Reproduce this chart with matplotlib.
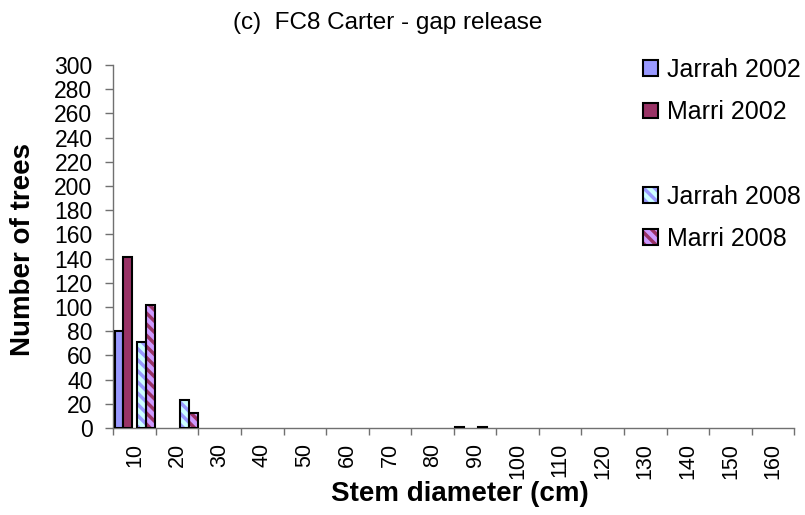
import numpy as np
import matplotlib
matplotlib.use("Agg")
import matplotlib.pyplot as plt
from matplotlib.patches import Patch
from matplotlib.legend_handler import HandlerTuple

plt.rcParams['font.family'] = ['Liberation Sans', 'DejaVu Sans']
plt.rcParams['hatch.linewidth'] = 2.5

categories = [10, 20, 30, 40, 50, 60, 70, 80, 90, 100, 110, 120, 130, 140, 150, 160]
jarrah_2002 = [80, 0, 0, 0, 0, 0, 0, 0, 1, 0, 0, 0, 0, 0, 0, 0]
marri_2002 = [141, 0, 0, 0, 0, 0, 0, 0, 0, 0, 0, 0, 0, 0, 0, 0]
jarrah_2008 = [71, 23, 0, 0, 0, 0, 0, 0, 1, 0, 0, 0, 0, 0, 0, 0]
marri_2008 = [102, 12, 0, 0, 0, 0, 0, 0, 0, 0, 0, 0, 0, 0, 0, 0]
y_ticks = list(range(0, 301, 20))

series = [
    ("Jarrah 2002", jarrah_2002, "#9999ff", None, 0.135),
    ("Marri 2002", marri_2002, "#993366", None, 0.345),
    ("Jarrah 2008", jarrah_2008, "#ccffff", "#9999ff", 0.665),
    ("Marri 2008", marri_2008, "#cc99ff", "#993366", 0.875),
]
w = 0.21

fig = plt.figure(figsize=(8.05, 5.15), dpi=100)
ax = fig.add_axes([0.1407, 0.169, 0.846, 0.705])

idx = np.arange(len(categories))
handles = []
for label, vals, fc, hc, off in series:
    vals = np.array(vals, dtype=float)
    m = vals > 0
    x = idx[m] + off
    if hc is None:
        ax.bar(x, vals[m], width=w, color=fc, edgecolor='black', linewidth=1.5, zorder=3)
        h = Patch(facecolor=fc, edgecolor='black', linewidth=1.5)
    else:
        ax.bar(x, vals[m], width=w, color=fc, edgecolor=hc, linewidth=0, hatch='\\\\\\', zorder=3)
        ax.bar(x, vals[m], width=w, fill=False, edgecolor='black', linewidth=1.5, zorder=4)
        h = (Patch(facecolor=fc, edgecolor=hc, linewidth=0, hatch='\\\\\\'),
             Patch(fill=False, edgecolor='black', linewidth=1.5))
    handles.append((h, label))

ax.set_xlim(0, len(categories))
ax.set_ylim(0, 300)
ax.set_yticks(y_ticks)
ax.set_yticklabels([str(v) for v in y_ticks], fontsize=16.5)
ax.set_xticks(idx + 0.5)
ax.set_xticklabels([str(c) for c in categories], rotation=90, fontsize=15.5)
ax.set_xticks(np.arange(len(categories) + 1), minor=True)
ax.tick_params(axis='x', which='major', length=0, pad=11)
ax.tick_params(axis='x', which='minor', length=5, width=1, color='#707070')
ax.tick_params(axis='y', length=6, width=1, color='#707070', pad=9)
for s in ['top', 'right']:
    ax.spines[s].set_visible(False)
for s in ['left', 'bottom']:
    ax.spines[s].set_color('#707070')
    ax.spines[s].set_linewidth(1)
ax.patch.set_alpha(0)

fig.text(30 / 805, 1 - 250 / 515, "Number of trees", rotation=90, rotation_mode='anchor',
         ha='center', va='baseline', fontsize=20, fontweight='bold')
fig.text(460 / 805, 1 - 501 / 515, "Stem diameter (cm)", ha='center', va='baseline',
         fontsize=20, fontweight='bold')

fig.text(388 / 805, 1 - 29 / 515, "(c)  FC8 Carter - gap release", ha='center', va='baseline', fontsize=17.5)

blank = Patch(facecolor='none', edgecolor='none')
hl = [h for h, _ in handles[:2]] + [blank] + [h for h, _ in handles[2:]]
ll = [l for _, l in handles[:2]] + [""] + [l for _, l in handles[2:]]
fig.legend(hl, ll, loc='upper left', bbox_to_anchor=(643 / 805, 1 - 58 / 515),
           frameon=False, fontsize=18, handlelength=0.6, handleheight=0.6,
           handletextpad=0.36, labelspacing=0.73, borderpad=0, borderaxespad=0,
           handler_map={tuple: HandlerTuple(ndivide=1, pad=0)})

fig.savefig("out.png", dpi=100)
